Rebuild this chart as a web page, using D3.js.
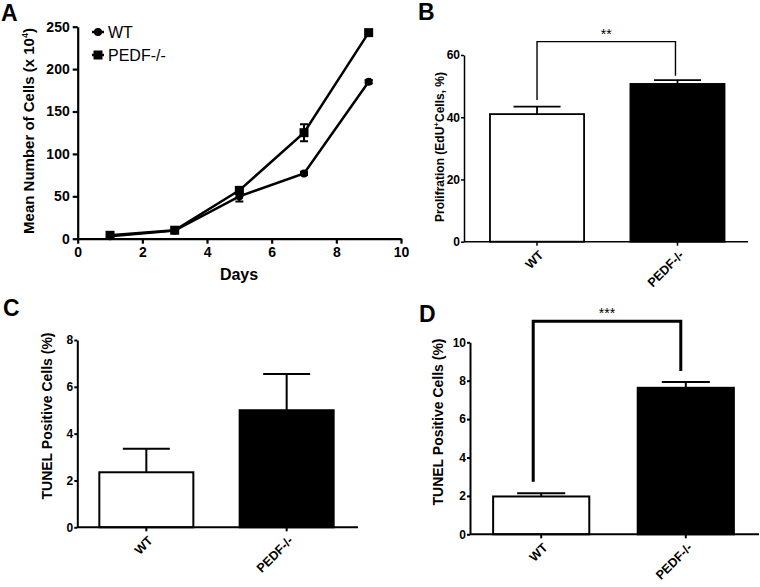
<!DOCTYPE html>
<html lang="en">
<head>
<meta charset="UTF-8" />
<title>PEDF figure</title>
<script src="https://d3js.org/d3.v7.min.js"></script>
<style>
  body { margin: 0; background: #fff; }
  svg { font-family: "Liberation Sans", Arial, sans-serif; }
  .tick text { font-weight: bold; fill: #000; }
</style>
</head>
<body>
<svg id="fig" width="760" height="587"></svg>
<script>
// panel A - growth curve
const days = [1, 3, 5, 7, 9];
const dayTicks = [0, 2, 4, 6, 8, 10];
const wtCells = [3, 9.5, 50, 77, 185];
const wtCellsErr = [1, 1, 6, 2, 2];
const pedfCells = [4, 10, 57, 125, 243];
const pedfCellsErr = [1, 1, 2, 10, 2];
const cellTicks = [0, 50, 100, 150, 200, 250];

// bar panels
const groups = ["WT", "PEDF-/-"];
const eduPct = [41, 50.7];
const eduErr = [2.4, 1.2];
const eduTicks = [0, 20, 40, 60];
const tunelC = [2.35, 5.0];
const tunelCErr = [1.0, 1.55];
const tunelCTicks = [0, 2, 4, 6, 8];
const tunelD = [1.97, 7.63];
const tunelDErr = [0.17, 0.3];
const tunelDTicks = [0, 2, 4, 6, 8, 10];

const svg = d3.select("#fig");

function panelLetter(t, x, y) {
  svg.append("text").attr("x", x).attr("y", y)
    .attr("font-size", 23).attr("font-weight", "bold").text(t);
}

// ---------- A ----------
(function () {
  const x = d3.scaleLinear().domain([0, 10]).range([77.7, 401]);
  const y = d3.scaleLinear().domain([0, 250]).range([238.7, 26.7]);
  const g = svg.append("g");

  const ax = g.append("g").attr("transform", `translate(0,${y(0)})`)
    .call(d3.axisBottom(x).tickValues(dayTicks).tickSize(5).tickSizeOuter(0).tickPadding(3));
  ax.selectAll("text").attr("font-size", 14);
  const ay = g.append("g").attr("transform", `translate(${x(0)},0)`)
    .call(d3.axisLeft(y).tickValues(cellTicks).tickSize(5).tickSizeOuter(0).tickPadding(3));
  ay.selectAll("text").attr("font-size", 14);
  g.selectAll(".domain, .tick line").attr("stroke", "#000").attr("stroke-width", 2.2);

  const line = d3.line().x((d, i) => x(days[i])).y(d => y(d));
  [[wtCells, wtCellsErr, "circle"], [pedfCells, pedfCellsErr, "square"]].forEach(([vals, errs, shape]) => {
    g.append("path").datum(vals).attr("d", line)
      .attr("fill", "none").attr("stroke", "#000").attr("stroke-width", 2.5);
    vals.forEach((v, i) => {
      const cx = x(days[i]);
      if (errs[i] > 1.5) {
        g.append("path")
          .attr("d", `M${cx},${y(v - errs[i])}V${y(v + errs[i])}M${cx - 4},${y(v - errs[i])}h8M${cx - 4},${y(v + errs[i])}h8`)
          .attr("stroke", "#000").attr("stroke-width", 2).attr("fill", "none");
      }
      if (shape === "circle") {
        g.append("circle").attr("cx", cx).attr("cy", y(v)).attr("r", 4);
      } else {
        g.append("rect").attr("x", cx - 4.5).attr("y", y(v) - 4.5).attr("width", 9).attr("height", 9);
      }
    });
  });

  // legend
  const lg = g.append("g");
  [["WT", "circle", 32], ["PEDF-/-", "square", 55]].forEach(([name, shape, ly]) => {
    lg.append("line").attr("x1", 92).attr("x2", 104).attr("y1", ly).attr("y2", ly)
      .attr("stroke", "#000").attr("stroke-width", 2.5);
    if (shape === "circle") lg.append("circle").attr("cx", 98).attr("cy", ly).attr("r", 4);
    else lg.append("rect").attr("x", 93.5).attr("y", ly - 4.5).attr("width", 9).attr("height", 9);
    lg.append("text").attr("x", 108).attr("y", ly + 6).attr("font-size", 16).text(name);
  });

  g.append("text").attr("x", 239).attr("y", 280).attr("text-anchor", "middle")
    .attr("font-size", 16).attr("font-weight", "bold").text("Days");
  const yt = g.append("text").attr("transform", "translate(34,131) rotate(-90)")
    .attr("text-anchor", "middle").attr("font-size", 15).attr("font-weight", "bold");
  yt.append("tspan").text("Mean Number of Cells (x 10");
  yt.append("tspan").attr("dy", -6).attr("font-size", 9).text("4");
  yt.append("tspan").attr("dy", 6).text(")");
  panelLetter("A", 1, 21);
})();

// ---------- bar panel helper ----------
function barPanel(o) {
  const g = svg.append("g");
  const x = d3.scaleBand().domain(groups).range(o.band)
    .paddingInner(o.padIn).paddingOuter(o.padOut);
  const y = d3.scaleLinear().domain(o.domain).range([o.y0, o.yTop]);
  const sw = o.axisW;

  // bars
  o.values.forEach((v, i) => {
    const cx = x(groups[i]) + x.bandwidth() / 2;
    const top = y(v + o.errs[i]);
    const capW = x.bandwidth() * 0.5;
    g.append("path").attr("d", `M${cx},${y(v)}V${top}M${cx - capW / 2},${top}h${capW}`)
      .attr("stroke", "#000").attr("stroke-width", o.barW).attr("fill", "none");
    g.append("rect").attr("x", x(groups[i])).attr("y", y(v))
      .attr("width", x.bandwidth()).attr("height", y(0) - y(v))
      .attr("fill", i === 0 ? "#fff" : "#000").attr("stroke", "#000").attr("stroke-width", o.barW);
  });

  // axes
  const ay = g.append("g").attr("transform", `translate(${o.axisX0},0)`)
    .call(d3.axisLeft(y).tickValues(o.ticks).tickSize(3).tickSizeOuter(0).tickPadding(1));
  ay.selectAll("text").attr("font-size", 12);
  const ax = g.append("g").attr("transform", `translate(0,${o.y0})`)
    .call(d3.axisBottom(x).tickSize(4).tickSizeOuter(0));
  ax.select(".domain").remove();
  ax.append("line").attr("x1", o.axisX0).attr("x2", o.axisX1).attr("stroke", "#000");
  ax.selectAll(".tick text")
    .attr("font-size", 12.5).attr("text-anchor", "end")
    .attr("transform", "translate(4,11) rotate(-45)").attr("dy", "0.35em").attr("y", 0);
  g.selectAll(".domain, .tick line, g > line").attr("stroke", "#000").attr("stroke-width", sw);

  // y title
  const yt = g.append("text").attr("transform", `translate(${o.titleX},${o.titleY}) rotate(-90)`)
    .attr("text-anchor", "middle").attr("font-size", o.titleSize).attr("font-weight", "bold");
  o.title.forEach(p => {
    const s = yt.append("tspan").text(p.t);
    if (p.sup) s.attr("dy", -5).attr("font-size", 8);
    if (p.back) s.attr("dy", 5);
  });

  // significance bracket
  if (o.sig) {
    const c0 = x(groups[0]) + x.bandwidth() / 2 + o.sig.dx[0];
    const c1 = x(groups[1]) + x.bandwidth() / 2 + o.sig.dx[1];
    const by = y(o.sig.at);
    g.append("path").attr("d", `M${c0},${y(o.sig.left)}V${by}H${c1}V${y(o.sig.right)}`)
      .attr("fill", "none").attr("stroke", "#000").attr("stroke-width", o.sig.w);
    g.append("text").attr("x", (c0 + c1) / 2).attr("y", by - 3).attr("text-anchor", "middle")
      .attr("font-size", 14).text(o.sig.label);
  }
}

// ---------- B ----------
barPanel({
  values: eduPct, errs: eduErr, domain: [0, 60], ticks: eduTicks,
  y0: 241.7, yTop: 55, band: [464, 750.5], padIn: 0.33, padOut: 0.185,
  axisX0: 464, axisX1: 748, axisW: 1.5, barW: 1.8,
  titleX: 444, titleY: 147, titleSize: 12,
  title: [{ t: "Prolifration (EdU" }, { t: "+", sup: true }, { t: "Cells, %)", back: true }],
  sig: { at: 64.3, left: 45.5, right: 53.3, label: "**", w: 1.4, dx: [0, -2] }
});
panelLetter("B", 418, 20);

// ---------- C ----------
barPanel({
  values: tunelC, errs: tunelCErr, domain: [0, 8], ticks: tunelCTicks,
  y0: 527.3, yTop: 340, band: [77.3, 355.7], padIn: 0.33, padOut: 0.157,
  axisX0: 77.3, axisX1: 358, axisW: 2, barW: 2,
  titleX: 52, titleY: 416, titleSize: 14,
  title: [{ t: "TUNEL Positive Cells (%)" }]
});
panelLetter("C", 3, 316);

// ---------- D ----------
barPanel({
  values: tunelD, errs: tunelDErr, domain: [0, 10], ticks: tunelDTicks,
  y0: 534.3, yTop: 342.3, band: [470, 757], padIn: 0.335, padOut: 0.16,
  axisX0: 470, axisX1: 759, axisW: 2, barW: 2,
  titleX: 443, titleY: 422, titleSize: 14,
  title: [{ t: "TUNEL Positive Cells (%)" }],
  sig: { at: 11.1, left: 2.74, right: 8.5, label: "***", w: 3, dx: [-8, -5] }
});
panelLetter("D", 419, 322);
</script>
</body>
</html>
